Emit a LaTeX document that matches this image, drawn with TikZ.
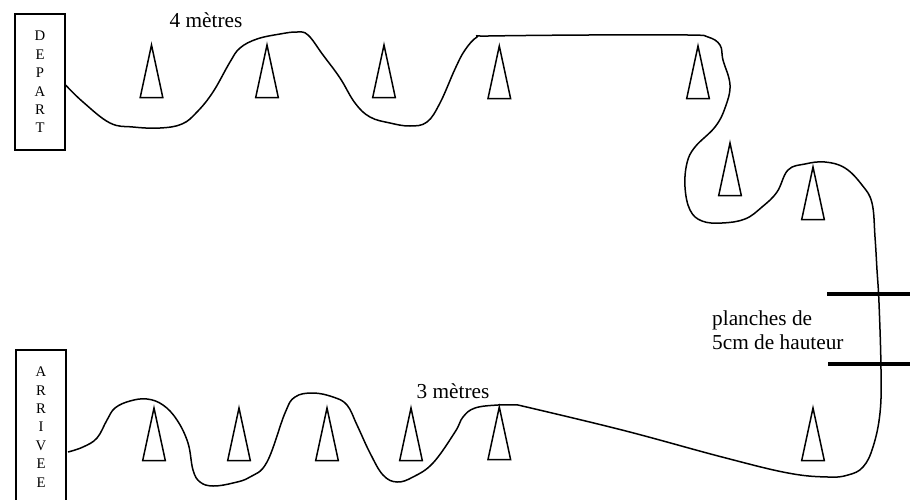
\documentclass[tikz,border=0pt]{standalone}
\usepackage{fontspec}
\setmainfont{Liberation Serif}
\tikzset{
    startbox/.style={draw,line width=1.5pt,minimum width=50pt,align=center,inner sep=0pt,font=\fontsize{14.7}{18.4}\selectfont},
    distlabel/.style={font=\fontsize{21.3}{24.4}\selectfont},
    coneline/.style={line width=1.5pt},
    pathline/.style={line width=1.5pt,line join=round},
    plankline/.style={line width=4pt}
}
\begin{document}
\begin{tikzpicture}[x=1pt,y=-1pt]
    \useasboundingbox (0,0) rectangle (910,499);
    %draw boxes
    \node [startbox,minimum height=136pt] (depart) at (40,82) {D\\E\\P\\A\\R\\T};
    \node [startbox,minimum height=154pt] (arrive) at (41,427) {A\\R\\R\\I\\V\\E\\E};
    \coordinate (pathend) at (68,452);
    %draw cones
    \foreach \x/\y in {151.5/45,267/45,384/45,499.3/46,698/46,730/143,813/167,154/408,239/408,327/408,411/408,499.3/407,813/408}
        {%
            \draw [coneline] (\x,\y) -- (\x+11.3,\y+52.5) -- (\x-11.3,\y+52.5) -- cycle;
        }
    %draw planks
    \foreach \y/\xa in {294/827,364/828}
        {%
            \draw [plankline] (\xa,\y) -- (910,\y);
        }
    %draw path
    \draw [pathline] plot [smooth,tension=0.65] coordinates {(depart.-7) (83,102) (110,123) (133,127) (160,128) (182,124) (197,112) (213,92) (230,62) (240,48) (257,39) (280,34) (297,32) (308,35) (323,55) (340,78) (355,103) (370,117) (390,123) (410,126) (427,122) (440,103) (455,69) (465,50) (477,37) (488,36) (588,35) (688,35) (708,37) (720,45) (723,60) (730,85) (725,108) (715,127) (695,147) (687,163) (685,187) (690,210) (702,221) (722,223) (745,219) (762,207) (777,192) (788,170) (805,164) (825,162) (845,168) (862,185) (872,203) (875,237) (877,270) (879,303) (881,370) (880,413) (873,447) (863,467) (848,475) (828,477) (788,473) (722,457) (622,430) (518,405)};
    \draw [pathline] plot [smooth,tension=0.65] coordinates {(518,405) (498,405) (475,408) (463,417) (455,432) (433,463) (413,477) (397,482) (383,475) (370,453) (357,425) (347,405) (333,397) (313,393) (295,397) (285,413) (267,462) (250,477) (233,483) (213,486) (200,482) (193,470) (188,443) (177,420) (163,405) (147,399) (130,401) (115,408) (107,420) (97,438) (83,447) (pathend)};
    %draw labels
    \node [distlabel] (fourm) at (206,20) {4 mètres};
    \node [distlabel] (threem) at (453,391) {3 mètres};
    \node [distlabel,anchor=west,align=left,inner sep=0pt] (planks) at (712,330.5) {planches de\\5cm de hauteur};
\end{tikzpicture}
\end{document}
